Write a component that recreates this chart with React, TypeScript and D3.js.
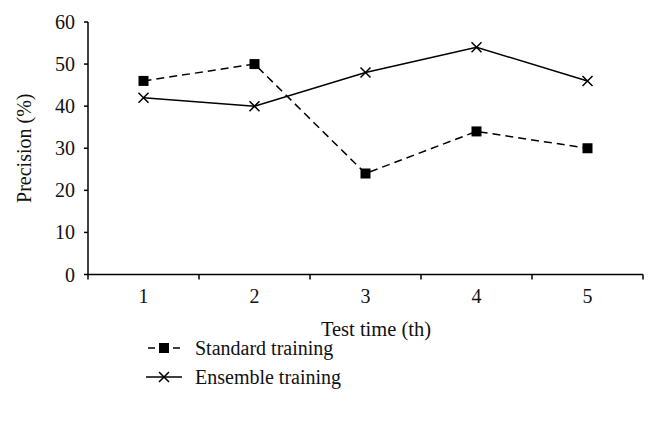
import React from "react";
import * as d3 from "d3";

const categories = ["1", "2", "3", "4", "5"];
const standardValues = [46, 50, 24, 34, 30];
const ensembleValues = [42, 40, 48, 54, 46];
const yTicks = [0, 10, 20, 30, 40, 50, 60];
const seriesNames = ["Standard training", "Ensemble training"];

const FONT = "Liberation Serif, Times New Roman, serif";

export default function App() {
  const W = 657;
  const H = 428;
  const x = d3.scaleBand<string>().domain(categories).range([88, 643]).paddingInner(0).paddingOuter(0);
  const y = d3.scaleLinear().domain([0, 60]).range([274.5, 22]);
  const cx = (c: string) => (x(c) as number) + x.bandwidth() / 2;
  const line = d3
    .line<number>()
    .x((_, i) => cx(categories[i]))
    .y((d) => y(d));
  const boundaries = categories.map((c) => x(c) as number).concat([643]);
  const sq = 10;
  const xs = 5;
  const lw = 1.5;

  const legendY1 = 348;
  const legendY2 = 377;
  const lmx = 164;

  return (
    <svg width={W} height={H} style={{ position: "absolute", left: 0, top: 0, background: "#fff" }}>
      <rect x={0} y={0} width={W} height={H} fill="#fff" />
      <line x1={88} x2={88} y1={y(60)} y2={y(0)} stroke="#000" strokeWidth={lw} />
      <line x1={88} x2={643} y1={y(0)} y2={y(0)} stroke="#000" strokeWidth={lw} />
      {yTicks.map((t) => (
        <g key={t}>
          <line x1={84} x2={88} y1={y(t)} y2={y(t)} stroke="#000" strokeWidth={lw} />
          <text x={75} y={y(t)} dy="0.35em" textAnchor="end" fontFamily={FONT} fontSize={20} fill="#111">
            {t}
          </text>
        </g>
      ))}
      {boundaries.map((b, i) => (
        <line key={i} x1={b} x2={b} y1={y(0)} y2={y(0) + 5} stroke="#000" strokeWidth={lw} />
      ))}
      {categories.map((c) => (
        <text key={c} x={cx(c)} y={303} textAnchor="middle" fontFamily={FONT} fontSize={20} fill="#111">
          {c}
        </text>
      ))}
      <text
        transform={`translate(31,${(y(0) + y(60)) / 2}) rotate(-90)`}
        textAnchor="middle"
        fontFamily={FONT}
        fontSize={20}
        fill="#111"
      >
        Precision (%)
      </text>
      <text x={376} y={336} textAnchor="middle" fontFamily={FONT} fontSize={20.5} fill="#111">
        Test time (th)
      </text>

      <path d={line(standardValues) || ""} fill="none" stroke="#000" strokeWidth={lw} strokeDasharray="8,5" />
      <path d={line(ensembleValues) || ""} fill="none" stroke="#000" strokeWidth={lw} />
      {standardValues.map((v, i) => (
        <rect key={i} x={cx(categories[i]) - sq / 2} y={y(v) - sq / 2} width={sq} height={sq} fill="#000" />
      ))}
      {ensembleValues.map((v, i) => {
        const px = cx(categories[i]);
        const py = y(v);
        return (
          <path
            key={i}
            d={`M${px - xs},${py - xs}L${px + xs},${py + xs}M${px - xs},${py + xs}L${px + xs},${py - xs}`}
            stroke="#000"
            strokeWidth={lw}
          />
        );
      })}

      <line x1={148} x2={155} y1={legendY1} y2={legendY1} stroke="#000" strokeWidth={lw} />
      <line x1={173} x2={180} y1={legendY1} y2={legendY1} stroke="#000" strokeWidth={lw} />
      <rect x={lmx - sq / 2} y={legendY1 - sq / 2} width={sq} height={sq} fill="#000" />
      <text x={195} y={legendY1} dy="0.35em" fontFamily={FONT} fontSize={20} fill="#111">
        {seriesNames[0]}
      </text>
      <line x1={146} x2={182} y1={legendY2} y2={legendY2} stroke="#000" strokeWidth={lw} />
      <path
        d={`M${lmx - xs},${legendY2 - xs}L${lmx + xs},${legendY2 + xs}M${lmx - xs},${legendY2 + xs}L${lmx + xs},${legendY2 - xs}`}
        stroke="#000"
        strokeWidth={lw}
      />
      <text x={195} y={legendY2} dy="0.35em" fontFamily={FONT} fontSize={20} fill="#111">
        {seriesNames[1]}
      </text>
    </svg>
  );
}
